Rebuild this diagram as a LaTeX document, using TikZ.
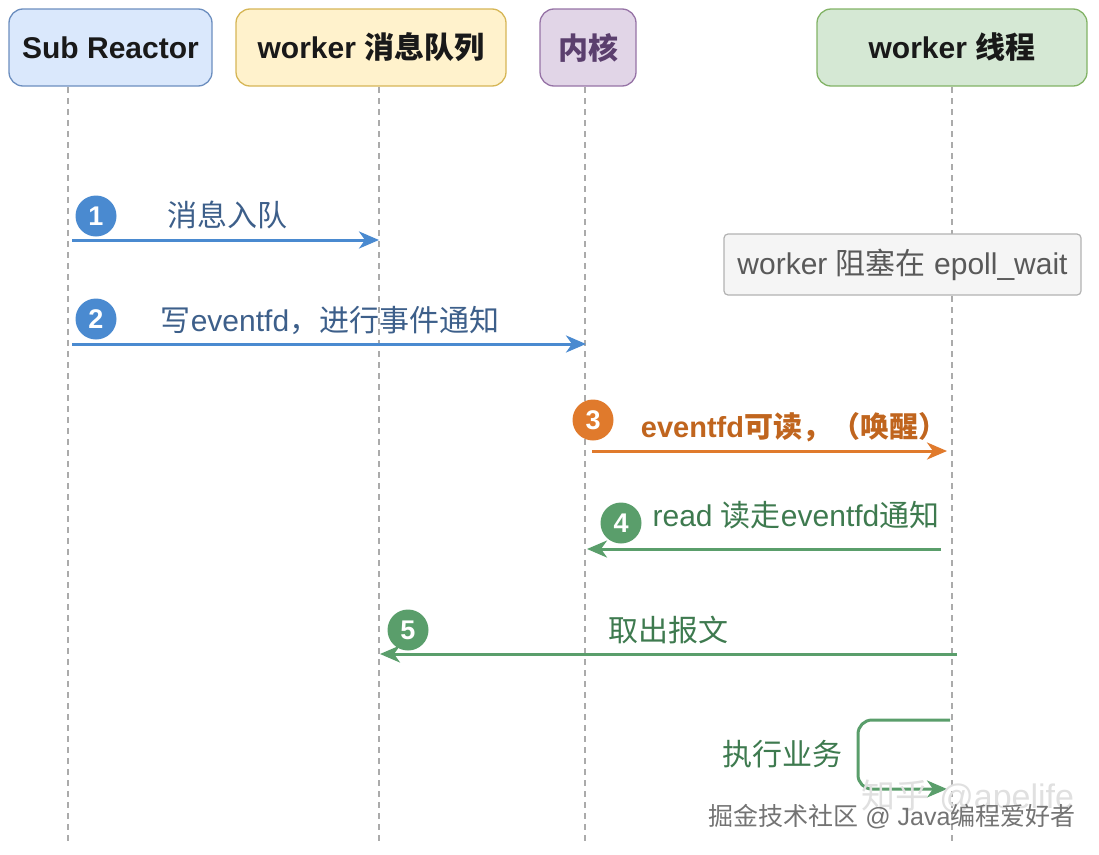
\documentclass[tikz,border=0pt]{standalone}
\usepackage{fontspec}
\setmainfont{Liberation Sans}
\newfontfamily\cjk{Noto Sans CJK SC}
\usetikzlibrary{arrows.meta}
\definecolor{srfill}{HTML}{DAE8FC}\definecolor{srline}{HTML}{6C8EBF}
\definecolor{mqfill}{HTML}{FFF2CC}\definecolor{mqline}{HTML}{D6B656}
\definecolor{knfill}{HTML}{E1D5E7}\definecolor{knline}{HTML}{9673A6}\definecolor{kntext}{HTML}{5B3F6E}
\definecolor{wtfill}{HTML}{D5E8D4}\definecolor{wtline}{HTML}{82B366}
\definecolor{cblue}{HTML}{4A8AD0}\definecolor{tblue}{HTML}{3D5F8A}
\definecolor{corange}{HTML}{E07A2C}\definecolor{torange}{HTML}{C0651E}
\definecolor{cgreen}{HTML}{5A9E6B}\definecolor{tgreen}{HTML}{3E7A4F}
\definecolor{lifel}{HTML}{ABABAB}
\tikzset{
  hdr/.style={draw, line width=1.3pt, rounded corners=14pt, minimum height=77pt, inner sep=0pt,
    font=\fontsize{30}{36}\selectfont\bfseries, text=black!90},
  life/.style={draw=lifel, line width=1.2pt, dash pattern=on 6pt off 5pt},
  msg/.style={line width=3pt, -{Stealth[length=20pt, width=17pt, inset=6pt]}},
  num/.style={circle, minimum size=41pt, inner sep=0pt, text=white, font=\fontsize{27}{30}\selectfont\bfseries},
  lbl/.style={inner sep=0pt, font=\fontsize{30}{36}\selectfont},
  notebox/.style={draw=black!30, fill=black!4, line width=1.2pt, rounded corners=4pt, minimum width=357pt,
    minimum height=61pt, inner sep=0pt, text=black!65, font=\fontsize{30}{36}\selectfont},
}
\begin{document}
\begin{tikzpicture}[x=1pt, y=-1pt]
\useasboundingbox (0,0) rectangle (1099,854);
% headers
\node[hdr, fill=srfill, draw=srline, minimum width=203pt] (sr) at (110.5,47.5) {Sub Reactor};
\node[hdr, fill=mqfill, draw=mqline, minimum width=270pt] (mq) at (371,47.5) {worker {\cjk 消息队列}};
\node[hdr, fill=knfill, draw=knline, minimum width=96pt, text=kntext] (kn) at (588,47.5) {\cjk 内核};
\node[hdr, fill=wtfill, draw=wtline, minimum width=270pt] (wt) at (952,47.5) {worker {\cjk 线程}};
% lifelines
\coordinate (srt) at (68,87); \coordinate (srb) at (68,845);
\coordinate (mqt) at (379,87); \coordinate (mqb) at (379,845);
\coordinate (knt) at (585,87); \coordinate (knb) at (585,845);
\coordinate (wtt) at (952,87); \coordinate (wtb) at (952,845);
\draw[life] (srt) -- (srb);
\draw[life] (mqt) -- (mqb);
\draw[life] (knt) -- (knb);
\draw[life] (wtt) -- (wtb);
% note
\node[notebox] (note) at (902.5,264.5) {worker {\cjk 阻塞在} epoll\_wait};
% message 1
\coordinate (a1) at (72,240); \coordinate (b1) at (379,240);
\draw[msg, cblue] (a1) -- (b1);
\node[num, fill=cblue] (c1) at (96,216) {1};
\node[lbl, text=tblue] (l1) at (227,215) {\cjk 消息入队};
% message 2
\coordinate (a2) at (72,344); \coordinate (b2) at (586,344);
\draw[msg, cblue] (a2) -- (b2);
\node[num, fill=cblue] (c2) at (96,319) {2};
\node[lbl, text=tblue] (l2) at (330,320) {{\cjk 写}eventfd{\cjk ，进行事件通知}};
% message 3
\coordinate (a3) at (592,451); \coordinate (b3) at (947,451);
\draw[msg, corange] (a3) -- (b3);
\node[num, fill=corange] (c3) at (593,420) {3};
\node[lbl, text=torange, font=\fontsize{29}{34}\selectfont\bfseries] (l3) at (794,427) {eventfd{\cjk 可读，（唤醒）}};
% message 4
\coordinate (a4) at (941,549); \coordinate (b4) at (587,549);
\draw[msg, cgreen] (a4) -- (b4);
\node[num, fill=cgreen] (c4) at (621,523) {4};
\node[lbl, text=tgreen] (l4) at (796,515) {read {\cjk 读走}eventfd{\cjk 通知}};
% message 5
\coordinate (a5) at (957,654); \coordinate (b5) at (380,654);
\draw[msg, cgreen] (a5) -- (b5);
\node[num, fill=cgreen] (c5) at (408,630) {5};
\node[lbl, text=tgreen] (l5) at (668,630) {\cjk 取出报文};
% self loop
\coordinate (s0) at (950,720); \coordinate (s1) at (858,720);
\coordinate (s2) at (858,789); \coordinate (s3) at (947,789);
\draw[msg, cgreen, rounded corners=14pt] (s0) -- (s1) -- (s2) -- (s3);
\node[lbl, text=tgreen] (l6) at (782,754) {\cjk 执行业务};
% watermarks
\node[inner sep=0pt, text=black!12, font=\fontsize{34}{40}\selectfont] (wm1) at (968,798) {{\cjk 知乎} @apelife};
\node[inner sep=0pt, text=black!55, font=\fontsize{25}{30}\selectfont] (wm2) at (892,817) {{\cjk 掘金技术社区} @ Java{\cjk 编程爱好者}};
\end{tikzpicture}
\end{document}
